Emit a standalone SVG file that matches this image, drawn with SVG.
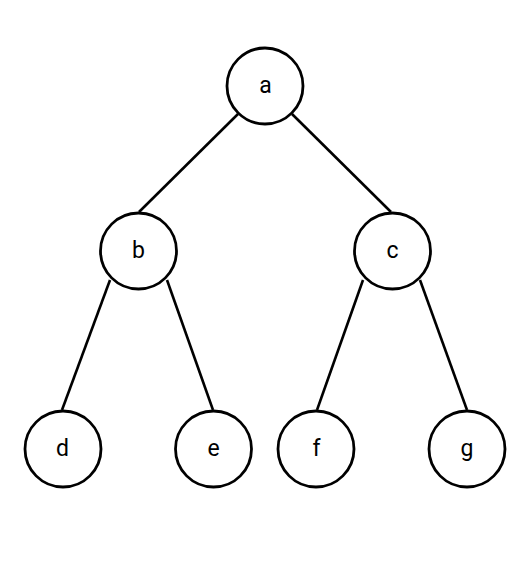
<svg xmlns="http://www.w3.org/2000/svg" width="528" height="567" viewBox="0 0 528 567">
<style>
.n circle{fill:#fff;stroke:#000;stroke-width:2.8}
.n text{font-family:Roboto,"Liberation Sans",sans-serif;font-size:23px;fill:#000;text-anchor:middle}
#edges line{stroke:#000;stroke-width:2.6}
</style>
<rect width="528" height="567" fill="#fff"/>
<g id="edges">
<line x1="238" y1="114" x2="139" y2="212"/>
<line x1="292" y1="114" x2="391" y2="212"/>
<line x1="110" y1="280" x2="62" y2="410"/>
<line x1="167" y1="280" x2="213" y2="410"/>
<line x1="363" y1="280" x2="317" y2="410"/>
<line x1="420" y1="280" x2="467" y2="410"/>
</g>
<g id="a" class="n"><circle cx="265" cy="86" r="38"/><text x="265.5" y="93">a</text></g>
<g id="b" class="n"><circle cx="138.5" cy="251" r="38"/><text x="138.5" y="258">b</text></g>
<g id="c" class="n"><circle cx="392.5" cy="251" r="38"/><text x="392.5" y="258">c</text></g>
<g id="d" class="n"><circle cx="63" cy="449" r="38"/><text x="62.5" y="456">d</text></g>
<g id="e" class="n"><circle cx="213.5" cy="449" r="38"/><text x="213.5" y="456">e</text></g>
<g id="f" class="n"><circle cx="316" cy="449" r="38"/><text x="316.5" y="456">f</text></g>
<g id="g" class="n"><circle cx="467" cy="449" r="38"/><text x="467" y="456">g</text></g>
</svg>
